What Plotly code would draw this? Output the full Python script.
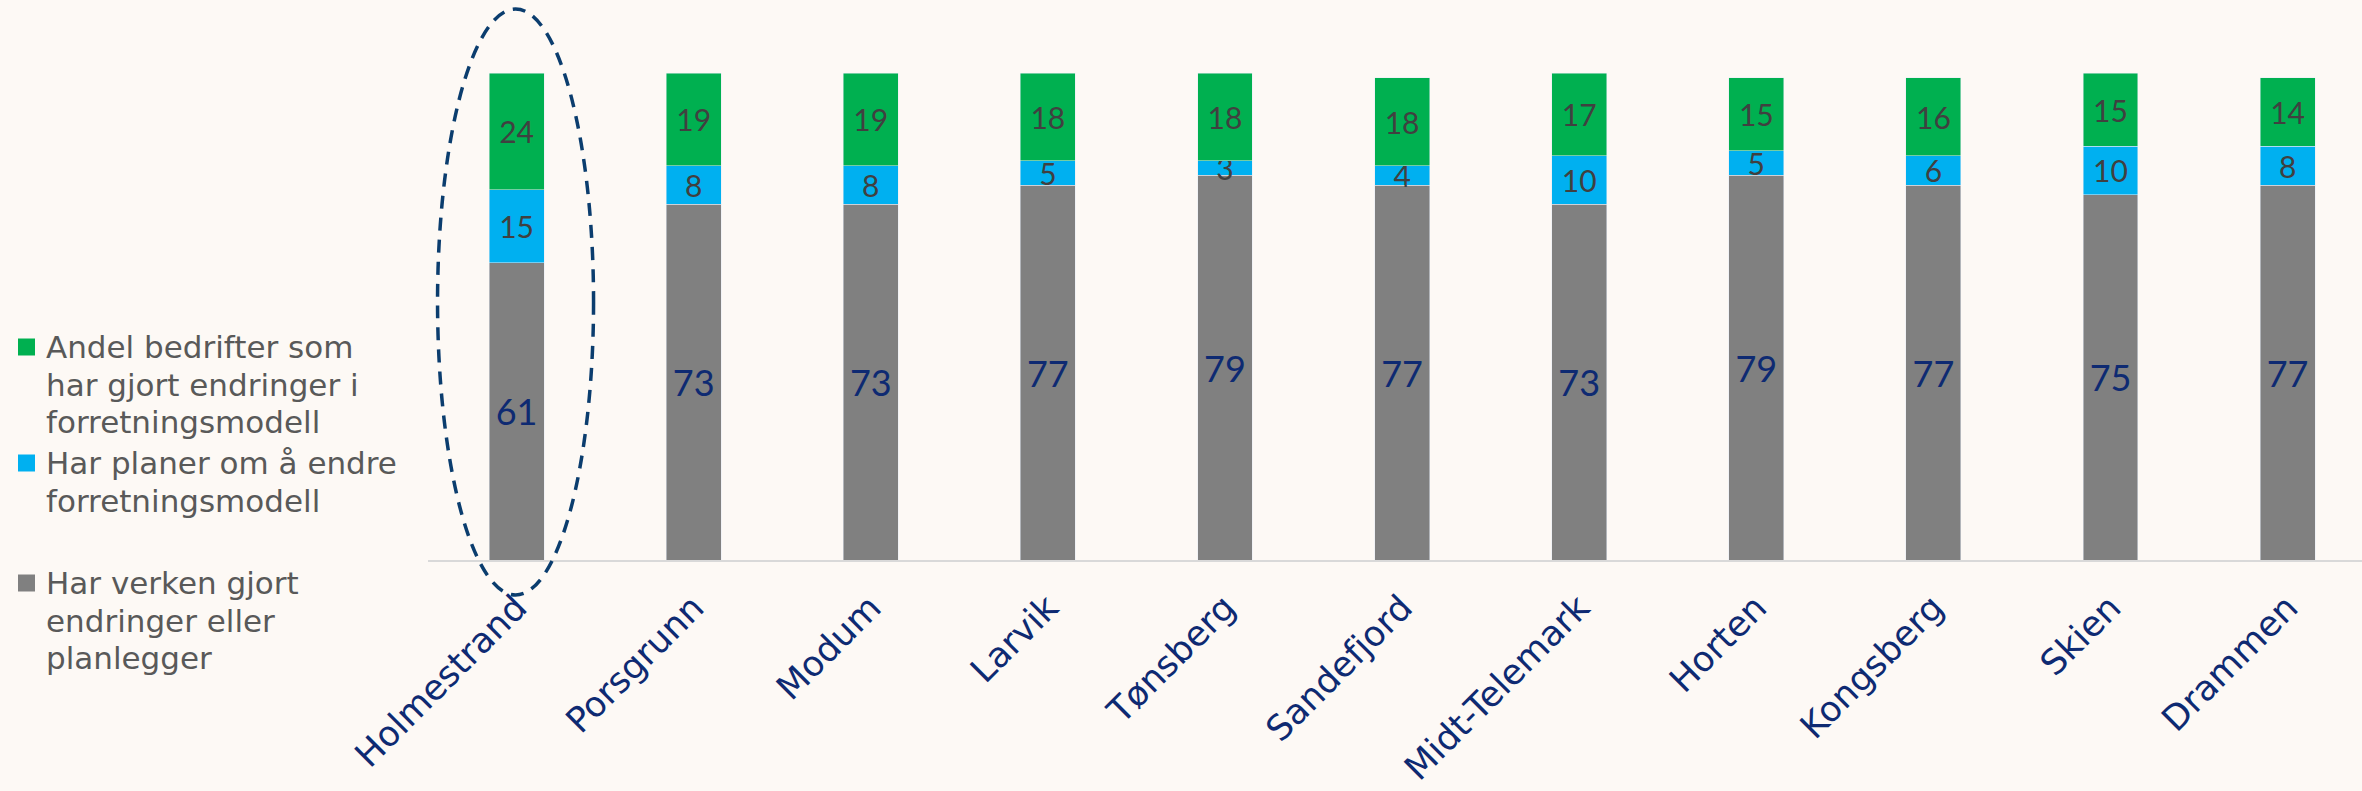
import plotly.graph_objects as go

# ---- data ----
categories = ["Holmestrand", "Porsgrunn", "Modum", "Larvik", "Tønsberg", "Sandefjord",
              "Midt-Telemark", "Horten", "Kongsberg", "Skien", "Drammen"]
neither_vals = [61, 73, 73, 77, 79, 77, 73, 79, 77, 75, 77]
plans_vals = [15, 8, 8, 5, 3, 4, 10, 5, 6, 10, 8]
changed_vals = [24, 19, 19, 18, 18, 18, 17, 15, 16, 15, 14]

series_names = ["Andel bedrifter som har gjort endringer i forretningsmodell",
                "Har planer om å endre forretningsmodell",
                "Har verken gjort endringer eller planlegger"]
legend_lines = [["Andel bedrifter som", "har gjort endringer i", "forretningsmodell"],
                ["Har planer om å endre", "forretningsmodell"],
                ["Har verken gjort", "endringer eller", "planlegger"]]

highlight = "Holmestrand"

# ---- style ----
BG = "#FDF9F5"
GREEN = "#00B050"
BLUE = "#00B0F0"
GRAY = "#808080"
NAVY = "#0E2A72"
DARKTXT = "#404040"
LEGTXT = "#595959"
FONT = "Lato"
WIDEFONT = "DejaVu Sans"

W, H = 2362, 791
ML, MR, MT, MB = 428, 0, 73, 231
XR = [-0.5, 10.42]
plot_w = W - ML - MR
plot_h = H - MT - MB

fig = go.Figure()
common = dict(texttemplate="%{y}", textposition="inside", insidetextanchor="middle",
              textangle=0, constraintext="none", cliponaxis=False, hoverinfo="skip",
              showlegend=False)
fig.add_trace(go.Bar(x=categories, y=neither_vals, name=series_names[2], marker_color=GRAY,
                     textfont=dict(family=FONT, size=36, color=NAVY), **common))
fig.add_trace(go.Bar(x=categories, y=plans_vals, name=series_names[1], marker_color=BLUE,
                     textfont=dict(family=FONT, size=30, color=DARKTXT), **common))
fig.add_trace(go.Bar(x=categories, y=changed_vals, name=series_names[0], marker_color=GREEN,
                     textfont=dict(family=FONT, size=30, color=DARKTXT), **common))


def px_x(px):
    return (px - ML) / plot_w


def px_y(py):
    return (H - MB - py) / plot_h


# ---- legend drawn in the left margin (square swatch + wrapped label) ----
leg_colors = [GREEN, BLUE, GRAY]
item_top = [347, 463, 583]      # centre of first text line of each entry (px)
line_step = 37.5
sq = 17
for lines, col, y0 in zip(legend_lines, leg_colors, item_top):
    fig.add_shape(type="rect", xref="paper", yref="paper",
                  x0=px_x(18), x1=px_x(18 + sq), y0=px_y(y0 + sq / 2), y1=px_y(y0 - sq / 2),
                  line=dict(width=0), fillcolor=col, layer="above")
    for k, txt in enumerate(lines):
        fig.add_annotation(xref="paper", yref="paper", x=px_x(44), y=px_y(y0 + k * line_step),
                           xanchor="left", yanchor="middle", showarrow=False, text=txt,
                           font=dict(family=WIDEFONT, size=31, color=LEGTXT))

# ---- highlight ellipse around the first category ----
idx = categories.index(highlight)
cx = (idx - XR[0]) / (XR[1] - XR[0]) - 1 / plot_w
hw = 78 / plot_w
fig.add_shape(type="circle", xref="paper", yref="paper",
              x0=cx - hw, x1=cx + hw,
              y0=-35 / plot_h, y1=1 + 64 / plot_h,
              line=dict(color="#0B3D6E", width=3.5, dash="13px,9px"),
              fillcolor="rgba(0,0,0,0)", layer="above")

fig.update_layout(
    width=W, height=H, autosize=False,
    margin=dict(l=ML, r=MR, t=MT, b=MB, pad=0),
    paper_bgcolor=BG, plot_bgcolor=BG,
    barmode="stack", bargap=0.69,
    font=dict(family=FONT),
    showlegend=False,
    xaxis=dict(type="category", range=XR, tickangle=-45, ticks="",
               tickfont=dict(family=WIDEFONT, size=35, color=NAVY),
               ticklabelstandoff=11, automargin=False,
               showline=True, linecolor="#D9D9D9", linewidth=2,
               showgrid=False, zeroline=False, fixedrange=True),
    yaxis=dict(range=[0, 100], visible=False, fixedrange=True, automargin=False),
)

fig.write_html("out.html", config={"displayModeBar": False},
               post_script="document.body.style.margin='0';")
